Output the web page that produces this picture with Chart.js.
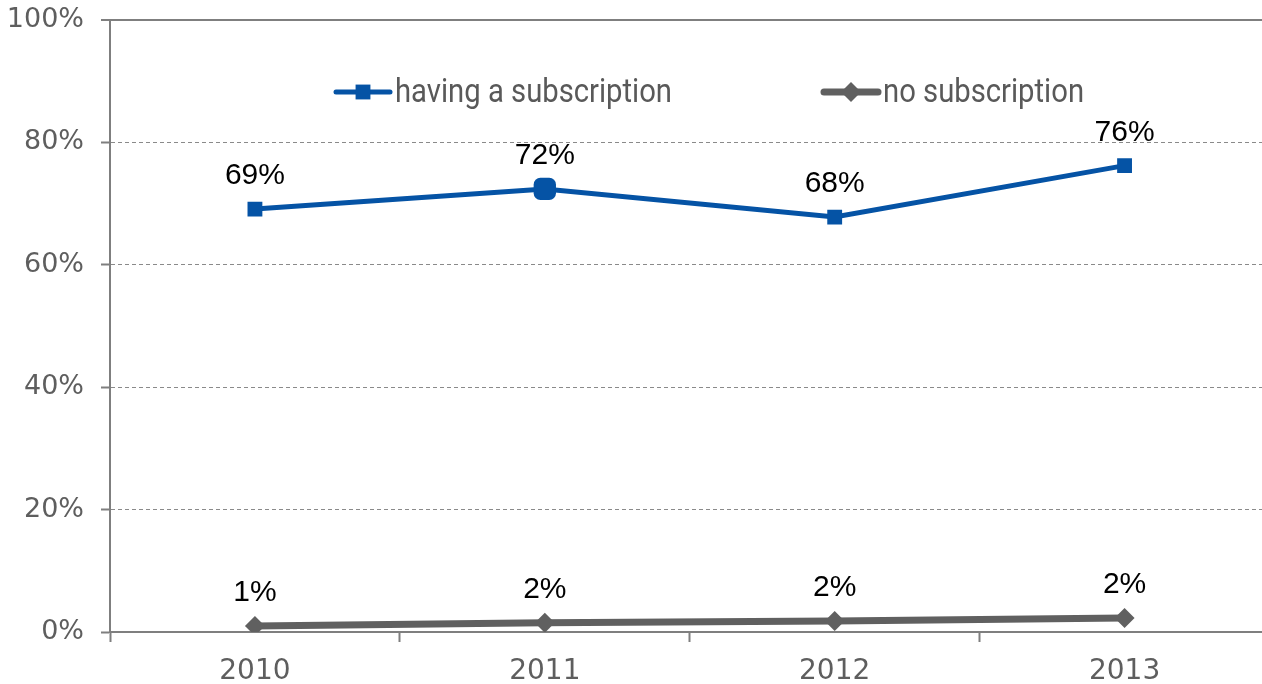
<!DOCTYPE html>
<html>
<head>
<meta charset="utf-8">
<script src="https://cdn.jsdelivr.net/npm/chart.js@4.4.1/dist/chart.umd.min.js"></script>
<style>
  html, body { margin: 0; padding: 0; background: #fff; overflow: hidden; }
  #wrap { position: relative; width: 1280px; height: 684px; }
</style>
</head>
<body>
<div id="wrap"><canvas id="chart"></canvas></div>
<script>
/* --- data --- */
const YEARS = ['2010', '2011', '2012', '2013'];
const SUBSCRIBED = [69.1, 72.4, 67.8, 76.2];
const NO_SUBSCRIPTION = [1.0, 1.5, 1.8, 2.3];
const SERIES_NAMES = ['having a subscription', 'no subscription'];
const Y_MIN = 0;
const Y_MAX = 100;
const Y_STEP = 20;

const COLORS = {
  blue: '#0553a5',
  gray: '#606060',
  axis: '#7f7f7f',
  grid: '#8a8a8a',
  tick: '#5e5e5e',
  legend: '#595959',
  label: '#000000'
};

/* value labels above every point */
const pointLabels = {
  id: 'pointLabels',
  afterDatasetsDraw(chart) {
    const { ctx } = chart;
    ctx.save();
    ctx.font = '30px "Liberation Sans", Arial, sans-serif';
    ctx.fillStyle = COLORS.label;
    ctx.textAlign = 'center';
    ctx.textBaseline = 'alphabetic';
    chart.data.datasets.forEach((ds, i) => {
      chart.getDatasetMeta(i).data.forEach((pt, j) => {
        ctx.fillText(Math.round(ds.data[j]) + '%', pt.x, pt.y - 25);
      });
    });
    ctx.restore();
  }
};

/* legend sits inside the plot, drawn by hand (narrowed text) */
const innerLegend = {
  id: 'innerLegend',
  afterDraw(chart) {
    const { ctx } = chart;
    const y = 92;
    const items = [
      { x: 336, color: COLORS.blue, width: 5, style: 'rect', radius: 10.5 },
      { x: 824, color: COLORS.gray, width: 7, style: 'rectRot', radius: 10 }
    ];
    ctx.save();
    items.forEach((it, i) => {
      ctx.strokeStyle = it.color;
      ctx.lineWidth = it.width;
      ctx.lineCap = 'round';
      ctx.beginPath();
      ctx.moveTo(it.x, y);
      ctx.lineTo(it.x + 54, y);
      ctx.stroke();
      ctx.fillStyle = it.color;
      Chart.helpers.drawPoint(ctx, { pointStyle: it.style, radius: it.radius, borderWidth: 0 }, it.x + 27, y);

      ctx.save();
      ctx.translate(it.x + 59, y + 1);
      ctx.scale(0.86, 1);
      ctx.fillStyle = COLORS.legend;
      ctx.font = '34px Roboto, sans-serif';
      ctx.textBaseline = 'middle';
      ctx.textAlign = 'left';
      ctx.fillText(SERIES_NAMES[i], 0, 0);
      ctx.restore();
    });
    ctx.restore();
  }
};

const ctx = document.getElementById('chart');

new Chart(ctx, {
  type: 'line',
  data: {
    labels: YEARS,
    datasets: [
      {
        label: SERIES_NAMES[0],
        data: SUBSCRIBED,
        borderColor: COLORS.blue,
        backgroundColor: COLORS.blue,
        borderWidth: 5,
        pointStyle: ['rect', 'rectRounded', 'rect', 'rect'],
        pointRadius: [10.5, 13, 10.5, 10.5],
        pointBorderWidth: 0,
        tension: 0
      },
      {
        label: SERIES_NAMES[1],
        data: NO_SUBSCRIPTION,
        borderColor: COLORS.gray,
        backgroundColor: COLORS.gray,
        borderWidth: 7,
        pointStyle: 'rectRot',
        pointRadius: 10,
        pointBorderWidth: 0,
        tension: 0
      }
    ]
  },
  options: {
    responsive: true,
    maintainAspectRatio: false,
    animation: false,
    layout: { padding: { top: 20, right: 4, left: 0, bottom: 0 } },
    plugins: {
      legend: { display: false },
      tooltip: { enabled: false }
    },
    scales: {
      x: {
        offset: true,
        afterFit: (s) => { s.height = 52; s.paddingLeft = 0; s.paddingRight = 0; },
        grid: {
          offset: true,
          drawOnChartArea: false,
          drawTicks: true,
          tickLength: 10,
          tickColor: COLORS.axis,
          tickWidth: 2
        },
        border: { display: true, color: COLORS.axis, width: 2 },
        ticks: {
          color: COLORS.tick,
          padding: 13,
          font: { family: '"DejaVu Sans", sans-serif', size: 28 }
        }
      },
      y: {
        min: Y_MIN,
        max: Y_MAX,
        afterFit: (s) => { s.width = 110; s.paddingTop = 0; s.paddingBottom = 0; },
        ticks: {
          stepSize: Y_STEP,
          color: COLORS.tick,
          padding: 17,
          font: { family: '"DejaVu Sans", sans-serif', size: 27 },
          callback: (v) => v + '%'
        },
        grid: {
          drawTicks: true,
          tickLength: 9,
          tickColor: COLORS.axis,
          tickWidth: 2,
          color: (c) => (c.tick && c.tick.value === Y_MIN) ? 'rgba(0,0,0,0)'
            : (c.tick && c.tick.value === Y_MAX) ? COLORS.axis : COLORS.grid,
          lineWidth: (c) => (c.tick && c.tick.value === Y_MAX) ? 2 : 1
        },
        border: {
          display: true,
          color: COLORS.axis,
          width: 2,
          dash: (c) => (c.tick && c.tick.value !== Y_MAX) ? [4, 3] : []
        }
      }
    }
  },
  plugins: [pointLabels, innerLegend]
});
</script>
</body>
</html>
